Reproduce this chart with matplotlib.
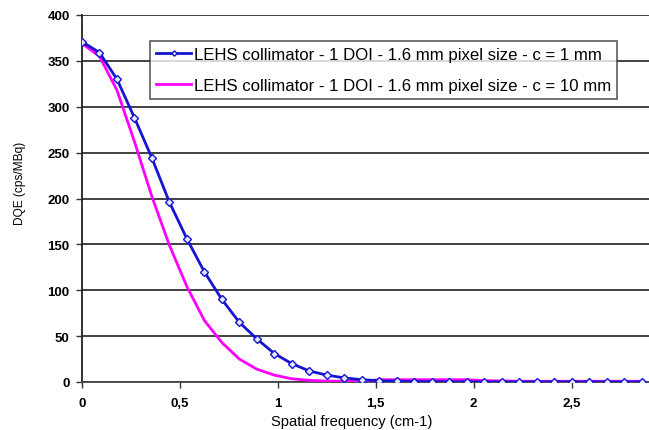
import matplotlib
matplotlib.use("Agg")
import matplotlib.pyplot as plt
import numpy as np

plt.rcParams['font.family'] = ['Liberation Sans', 'DejaVu Sans']

step = 0.0893
n_points = 33
freq = [round(k * step, 4) for k in range(n_points)]

dqe_c1 = [371, 359, 330, 288, 244, 196, 156, 120, 90, 65, 47, 31, 20, 12, 7.5,
          4.5, 2.5, 1.4, 0.8, 0.5, 0.3, 0.2, 0.1, 0.1, 0.1, 0.1, 0.1, 0.1, 0.1,
          0.1, 0.1, 0.1, 0.1]
dqe_c10 = [369, 355, 318, 262, 202, 149, 104, 67, 43, 25, 14, 7.5, 3.5, 1.8, 1.0,
           0.8, 0.8, 2.5, 2.5, 2.5, 2.5, 2.5, 2.5, 1.5, 1.2, 0.8, 0.8, 0.8, 0.8,
           0.8, 0.8, 0.8, 0.8]

label_c1 = "LEHS collimator - 1 DOI - 1.6 mm pixel size - c = 1 mm"
label_c10 = "LEHS collimator - 1 DOI - 1.6 mm pixel size - c = 10 mm"

x_ticks = [0, 0.5, 1, 1.5, 2, 2.5]
x_tick_labels = ["0", "0,5", "1", "1,5", "2", "2,5"]
y_ticks = list(range(0, 401, 50))

fig = plt.figure(figsize=(6.49, 4.31), dpi=100)
ax = fig.add_axes([82/649, 1-383/431, 1-82/649, (383-16)/431])

ax.plot(freq, dqe_c10, color='#ff00ff', lw=2, label=label_c10, zorder=3)
ax.plot(freq, dqe_c1, color='#1515d0', lw=2, marker='D', ms=4.5,
        mfc='#e4e8ff', mec='#1515d0', mew=1, label=label_c1, zorder=4)

ax.set_xlim(0, (649-82)/195.8)
ax.set_ylim(0, 400)
ax.set_xticks(x_ticks)
ax.set_xticklabels(x_tick_labels, fontsize=9.5, fontweight='bold')
ax.set_yticks(y_ticks)
ax.set_yticklabels([str(v) for v in y_ticks], fontsize=9.5, fontweight='bold')
ax.tick_params(axis='both', direction='out', length=4, width=1, color='#333333', pad=5)
ax.tick_params(axis='x', pad=7)

ax.yaxis.grid(True, color='#333333', lw=1.3)
ax.set_axisbelow(True)
for s in ['top', 'right']:
    ax.spines[s].set_visible(False)
ax.spines['left'].set_color('#222222')
ax.spines['left'].set_linewidth(1.3)
ax.spines['bottom'].set_color('#444444')
ax.spines['bottom'].set_linewidth(1.3)

ax.set_xlabel("Spatial frequency (cm-1)", fontsize=10.6, va='center')
ax.xaxis.set_label_coords((352-82)/567, -(422-383)/367)
ax.set_ylabel("DQE (cps/MBq)", fontsize=8.6, va='center')
ax.yaxis.set_label_coords(-(82-20)/567, 1-(183-16)/367)

handles, labels = ax.get_legend_handles_labels()
leg = ax.legend(handles[::-1], labels[::-1], loc='upper left',
                bbox_to_anchor=((150-82)/567, 1-(42-16)/367), fontsize=12.1,
                frameon=True, fancybox=False, edgecolor='#333333',
                handlelength=2.1, handletextpad=0.15, labelspacing=0.95,
                borderpad=0.35, borderaxespad=0, markerscale=0.6)
leg.get_frame().set_linewidth(1.2)
leg.set_zorder(10)

fig.savefig("out.png", dpi=100)
